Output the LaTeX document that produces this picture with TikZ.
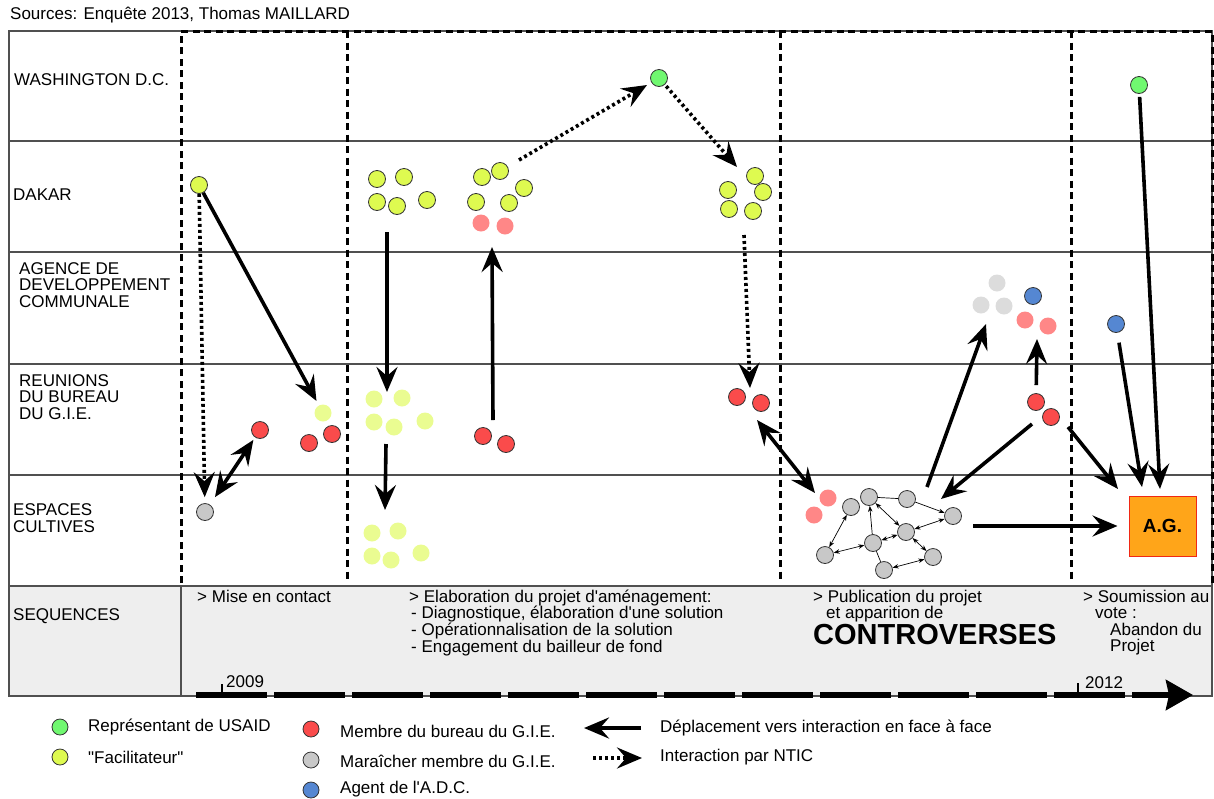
\documentclass[tikz,border=0pt]{standalone}
\usepackage{fontspec}
\setmainfont{Liberation Sans}
\usetikzlibrary{arrows.meta}
\usetikzlibrary{positioning}

\definecolor{usaid}{RGB}{112,248,112}
\definecolor{facil}{RGB}{222,250,80}
\definecolor{facilpale}{RGB}{234,252,145}
\definecolor{bureau}{RGB}{250,75,75}
\definecolor{bureaupale}{RGB}{255,135,135}
\definecolor{maraicher}{RGB}{200,200,200}
\definecolor{maraicherpale}{RGB}{220,220,220}
\definecolor{agentadc}{RGB}{85,135,210}
\definecolor{agorange}{RGB}{255,165,25}
\definecolor{agborder}{RGB}{240,40,20}
\definecolor{seqfill}{RGB}{238,238,238}
\definecolor{rowgray}{RGB}{80,80,80}

\newcommand{\txt}{\fontsize{17}{16.6}\selectfont}

\begin{document}
\begin{tikzpicture}[x=1pt,y=-1pt,>={Stealth[length=25pt,width=21pt,inset=9pt]},
	actor/.style={circle,draw=black!80,line width=0.8pt,inner sep=0pt,minimum size=17pt},
	pale/.style={circle,inner sep=0pt,minimum size=17pt},
	usaid node/.style={actor,fill=usaid},
	facil node/.style={actor,fill=facil},
	bureau node/.style={actor,fill=bureau},
	gray node/.style={actor,fill=maraicher},
	adc node/.style={actor,fill=agentadc},
	label/.style={anchor=west,align=left,inner sep=0pt,font=\txt},
	period/.style={line width=3pt,dash pattern=on 7pt off 4.5pt},
	rowline/.style={rowgray,line width=1.3pt},
	face/.style={line width=3.6pt,->},
	twoway/.style={line width=3.6pt,<->},
	ntic/.style={line width=3.6pt,dash pattern=on 3pt off 3pt,->},
	link/.style={line width=0.7pt,{Stealth[length=6pt,width=4.5pt]}-{Stealth[length=6pt,width=4.5pt]}},
	link one/.style={line width=0.7pt,-{Stealth[length=6pt,width=4.5pt]}},
	plain link/.style={line width=0.7pt}]

	\useasboundingbox (0,0) rectangle (1214,798);

	% table
	\fill[seqfill] (9,586) rectangle (1212,696);
	\foreach \yy in {141,252,364,475,586}
		\draw[rowline] (9,\yy) -- (1212,\yy);
	\draw[rowline] (9,31) rectangle (1212,696);
	\draw[rowline] (181,586) -- (181,696);

	% periodes
	\draw[period] (181,583) -- (181,31) -- (1212,31) -- (1212,583);
	\foreach \xx in {347,780,1071}
		\draw[period] (\xx,31) -- (\xx,583);

	\node[label] (src) at (10,15) {Sources: Enquête 2013, Thomas MAILLARD};

	% lignes
	\node[label] (wdc) at (14,80) {WASHINGTON D.C.};
	\node[label] (dak) at (13,195) {DAKAR};
	\node[label] (adc) at (19,285) {AGENCE DE\\DEVELOPPEMENT\\COMMUNALE};
	\node[label] (gie) at (19,397) {REUNIONS\\DU BUREAU\\DU G.I.E.};
	\node[label] (esp) at (13,518) {ESPACES\\CULTIVES};
	\node[label] (seq) at (13,616) {SEQUENCES};

	% sequences
	\node[label,anchor=north west] (s1) at (197,589.5) {> Mise en contact};
	\node[label,anchor=north west] (s2) at (409,589.5) {> Elaboration du projet d\textquotesingle{}aménagement:\\
		\hspace*{2pt}- Diagnostique, élaboration d\textquotesingle{}une solution\\
		\hspace*{2pt}- Opérationnalisation de la solution\\
		\hspace*{2pt}- Engagement du bailleur de fond};
	\node[label,anchor=north west] (s3) at (813,589.5) {> Publication du projet\\\hspace*{13pt}et apparition de};
	\node[label,font=\fontsize{29}{30}\selectfont\bfseries] (contro) at (813,634.5) {CONTROVERSES};
	\node[label,anchor=north west] (s4) at (1083,589.5) {> Soumission au\\\hspace*{12pt}vote :\\
		\hspace*{27pt}Abandon du\\\hspace*{27pt}Projet};

	% frise
	\coordinate (t0) at (196,695);
	\coordinate (t1) at (1193,695);
	\draw[line width=5.5pt,dash pattern=on 71pt off 7pt,-{Stealth[length=27pt,width=30pt,inset=3pt]}] (t0) -- (t1);
	\draw[line width=2.5pt] (222,693) -- (222,684);
	\draw[line width=2.5pt] (1078,693) -- (1078,683);
	\node[label] (y2009) at (226,682) {2009};
	\node[label] (y2012) at (1085,683) {2012};

	% periode 1
	\node[facil node] (y0) at (199,185) {};
	\node[gray node] (g0) at (205,512) {};
	\node[bureau node] (r0) at (260,430) {};
	\node[pale,fill=facilpale] (fy0) at (323,413) {};
	\node[bureau node] (r1) at (309,443) {};
	\node[bureau node] (r2) at (332,434) {};

	% periode 2
	\node[facil node] (ya1) at (377,179) {};
	\node[facil node] (ya2) at (404,177) {};
	\node[facil node] (ya3) at (377,202) {};
	\node[facil node] (ya4) at (397,206) {};
	\node[facil node] (ya5) at (427,200) {};
	\node[facil node] (yb1) at (482,177) {};
	\node[facil node] (yb2) at (500,171) {};
	\node[facil node] (yb3) at (524,188) {};
	\node[facil node] (yb4) at (476,202) {};
	\node[facil node] (yb5) at (509,203) {};
	\node[pale,fill=bureaupale] (fr1) at (481,223) {};
	\node[pale,fill=bureaupale] (fr2) at (505,226) {};
	\node[usaid node] (w0) at (659,78) {};
	\node[facil node] (yc1) at (755,176) {};
	\node[facil node] (yc2) at (728,190) {};
	\node[facil node] (yc3) at (763,192) {};
	\node[facil node] (yc4) at (729,209) {};
	\node[facil node] (yc5) at (753,211) {};
	\foreach \nn/\px/\py in {1/374/399,2/402/398,3/374/422,4/394/427,5/425/421}
		\node[pale,fill=facilpale] (fa\nn) at (\px,\py) {};
	\foreach \nn/\px/\py in {1/372/533,2/398/531,3/372/556,4/391/560,5/421/553}
		\node[pale,fill=facilpale] (fe\nn) at (\px,\py) {};
	\node[bureau node] (rb1) at (483,436) {};
	\node[bureau node] (rb2) at (506,444) {};
	\node[bureau node] (rc1) at (737,397) {};
	\node[bureau node] (rc2) at (761,403) {};

	% periode 3 : reseau
	\node[pale,fill=bureaupale] (fn1) at (828,498) {};
	\node[pale,fill=bureaupale] (fn2) at (814,515) {};
	\node[gray node] (n1) at (851,507) {};
	\node[gray node] (n2) at (869,497) {};
	\node[gray node] (n3) at (907,499) {};
	\node[gray node] (n4) at (953,516) {};
	\node[gray node] (n5) at (906,532) {};
	\node[gray node] (n6) at (873,543) {};
	\node[gray node] (n7) at (825,555) {};
	\node[gray node] (n8) at (884,570) {};
	\node[gray node] (n9) at (933,557) {};
	\node[pale,fill=maraicherpale] (fg1) at (997,283) {};
	\node[pale,fill=maraicherpale] (fg2) at (981,305) {};
	\node[pale,fill=maraicherpale] (fg3) at (1004,306) {};
	\node[adc node] (b1) at (1033,296) {};
	\node[pale,fill=bureaupale] (fd1) at (1025,320) {};
	\node[pale,fill=bureaupale] (fd2) at (1048,326) {};
	\node[bureau node] (rd1) at (1036,402) {};
	\node[bureau node] (rd2) at (1051,417) {};

	% periode 4
	\node[usaid node] (w1) at (1139,85) {};
	\node[adc node] (b2) at (1116,324) {};
	\node[draw=agborder,fill=agorange,line width=1pt,minimum width=67pt,minimum height=60pt,
		font=\fontsize{19}{20}\selectfont\bfseries] (ag) at (1162.5,526) {A.G.};

	% bouts de fleches
	\coordinate (aA1) at (387,232);
	\coordinate (aA2) at (387,392);
	\coordinate (aB1) at (386,444);
	\coordinate (aB2) at (385,510);
	\coordinate (aC1) at (493,420);
	\coordinate (aC2) at (492,247);
	\coordinate (aD1) at (519,160);
	\coordinate (aE2) at (737,167);
	\coordinate (aF1) at (744,235);
	\coordinate (aF2) at (750,388);
	\coordinate (aG1) at (757,420);
	\coordinate (aG2) at (815,493);
	\coordinate (aH1) at (927,487);
	\coordinate (aH2) at (986,324);
	\coordinate (aI2) at (1037,339);
	\coordinate (aJ1) at (1032,424);
	\coordinate (aJ2) at (941,499);
	\coordinate (aK1) at (1068,427);
	\coordinate (aK2) at (1118,489);
	\coordinate (aL2) at (1142,487);
	\coordinate (aM2) at (1160,489);
	\coordinate (aN1) at (973,526);

	\path
	(y0) edge[ntic,shorten >=6pt] (g0)
	(y0) edge[face,shorten >=5pt] (fy0)
	(g0) edge[twoway,shorten <=9pt,shorten >=3pt] (r0)
	(aA1) edge[face] (aA2)
	(aB1) edge[face] (aB2)
	(aC1) edge[face] (aC2)
	(aD1) edge[ntic,shorten >=5pt] (w0)
	(w0) edge[ntic,shorten <=2pt] (aE2)
	(aF1) edge[ntic] (aF2)
	(aG1) edge[twoway] (aG2)
	(aH1) edge[face] (aH2)
	(rd1) edge[face,shorten <=8pt] (aI2)
	(aJ1) edge[face] (aJ2)
	(aK1) edge[face] (aK2)
	(b2) edge[face,shorten <=10pt] (aL2)
	(w1) edge[face,shorten <=3pt] (aM2)
	(aN1) edge[face,shorten >=11pt] (ag);

	\path
	(n1) edge[link] (n7)
	(n2) edge[plain link] (n3)
	(n3) edge[link one] (n4)
	(n2) edge[link] (n5)
	(n6) edge[link one] (n2)
	(n6) edge[link] (n7)
	(n6) edge[link] (n5)
	(n5) edge[link] (n4)
	(n5) edge[link] (n9)
	(n8) edge[link] (n9)
	(n6) edge[plain link] (n8);

	% legende
	\node[usaid node,minimum size=16pt] (lg1) at (60,727) {};
	\node[facil node,minimum size=16pt] (lg2) at (60,757) {};
	\node[bureau node,minimum size=16pt] (lg3) at (311,729) {};
	\node[gray node,minimum size=16pt] (lg4) at (311,760) {};
	\node[adc node,minimum size=16pt] (lg5) at (311,790) {};
	\node[label] (lt1) at (88,727) {Représentant de USAID};
	\node[label] (lt2) at (88,757) {\textquotedbl Facilitateur\textquotedbl};
	\node[label] (lt3) at (340,731) {Membre du bureau du G.I.E.};
	\node[label] (lt4) at (340,761) {Maraîcher membre du G.I.E.};
	\node[label] (lt5) at (340,789) {Agent de l\textquotesingle{}A.D.C.};
	\coordinate (lfA) at (584,728);
	\coordinate (lfB) at (641,728);
	\coordinate (lnA) at (593,758);
	\coordinate (lnB) at (642,758);
	\draw[face,line width=4pt] (lfB) -- (lfA);
	\draw[ntic] (lnA) -- (lnB);
	\node[label] (lt6) at (660,728) {Déplacement vers interaction en face à face};
	\node[label] (lt7) at (660,757) {Interaction par NTIC};
\end{tikzpicture}
\end{document}
